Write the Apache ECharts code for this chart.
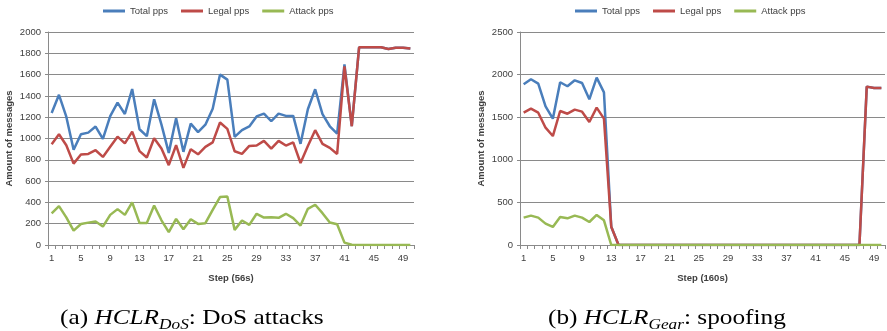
<!DOCTYPE html>
<html><head><meta charset="utf-8">
<script src="https://cdn.jsdelivr.net/npm/echarts@6/dist/echarts.min.js"></script>
<style>html,body{margin:0;padding:0;background:#fff}#c{width:887px;height:331px}</style>
</head><body><div id="c"></div>
<script>
const steps = ['1','2','3','4','5','6','7','8','9','10','11','12','13','14','15','16','17','18','19','20','21','22','23','24','25','26','27','28','29','30','31','32','33','34','35','36','37','38','39','40','41','42','43','44','45','46','47','48','49','50'];
const seriesNames = ['Total pps','Legal pps','Attack pps'];

const dosTotal = [1240,1410,1205,895,1040,1055,1112,997,1210,1337,1230,1465,1087,1022,1368,1130,865,1190,875,1140,1060,1130,1280,1600,1553,1015,1078,1113,1207,1234,1162,1234,1212,1212,950,1275,1462,1228,1115,1045,1695,1116,1856,1856,1856,1856,1840,1852,1852,1845];
const dosLegal = [947,1040,937,764,849,855,890,827,922,1017,954,1065,882,822,1002,907,750,937,724,900,852,922,963,1150,1090,880,855,930,934,978,905,978,934,963,770,930,1078,950,912,855,1678,1115,1856,1856,1856,1856,1840,1852,1852,1845];
const dosAttack = [297,365,260,135,197,210,220,173,283,337,283,400,207,207,371,232,120,245,148,242,198,205,330,450,456,142,230,189,293,258,261,255,293,252,183,340,378,299,211,195,22,3,0,0,0,0,0,0,0,0];

const gearTotal = [1886,1945,1894,1628,1483,1910,1863,1933,1902,1710,1965,1792,215,0,0,0,0,0,0,0,0,0,0,0,0,0,0,0,0,0,0,0,0,0,0,0,0,0,0,0,0,0,0,0,0,0,0,1859,1843,1843];
const gearLegal = [1553,1600,1553,1377,1279,1573,1541,1589,1565,1444,1612,1483,215,0,0,0,0,0,0,0,0,0,0,0,0,0,0,0,0,0,0,0,0,0,0,0,0,0,0,0,0,0,0,0,0,0,0,1859,1843,1843];
const gearAttack = [321,345,321,251,212,329,313,345,321,270,353,290,0,0,0,0,0,0,0,0,0,0,0,0,0,0,0,0,0,0,0,0,0,0,0,0,0,0,0,0,0,0,0,0,0,0,0,0,0,0];

const colors = ['#4A7EBB','#BE4B48','#98B954'];
const gray = '#8a8a8a';
const ff = 'Liberation Sans';
const txt = {fontFamily: ff, fontSize: 9.5, color: '#404040'};

function xAx(gi, name) {
  return {
    type: 'category', gridIndex: gi, data: steps, boundaryGap: true,
    name: name, nameLocation: 'middle', nameGap: 28,
    nameTextStyle: {fontFamily: ff, fontSize: 9.5, fontWeight: 'bold', color: '#404040'},
    axisLine: {lineStyle: {color: gray}},
    axisTick: {show: true, interval: 0, length: 4, lineStyle: {color: gray}},
    axisLabel: Object.assign({interval: 3, margin: 8}, txt),
    splitLine: {show: false}
  };
}
function yAx(gi, max, interval) {
  return {
    type: 'value', gridIndex: gi, min: 0, max: max, interval: interval,
    name: 'Amount of messages', nameLocation: 'middle', nameGap: 34,
    nameTextStyle: {fontFamily: ff, fontSize: 9.5, fontWeight: 'bold', color: '#404040'},
    axisLine: {show: true, lineStyle: {color: gray}},
    axisTick: {show: true, length: 3, lineStyle: {color: gray}},
    axisLabel: Object.assign({margin: 7, formatter: function (v) { return String(v); }}, txt),
    splitLine: {show: true, lineStyle: {color: gray, width: 1}}
  };
}
function ln(name, data, gi, ci) {
  return {
    type: 'line', name: name, data: data, xAxisIndex: gi, yAxisIndex: gi,
    symbol: 'none', color: colors[ci],
    lineStyle: {width: 2.5, color: colors[ci]}, animation: false
  };
}
function legend(left) {
  return {
    left: left, top: 6, data: seriesNames, icon: 'rect', itemWidth: 22, itemHeight: 3,
    itemGap: 13, textStyle: Object.assign({}, txt, {fontSize: 9.5}), padding: 0
  };
}
const capBase = {fontFamily: 'Liberation Serif', fontSize: 22, color: '#111', lineHeight: 30, verticalAlign: 'middle'};
const rich = {
  r: capBase,
  i: Object.assign({}, capBase, {fontStyle: 'italic'}),
  s: Object.assign({}, capBase, {fontStyle: 'italic', fontSize: 15, lineHeight: 15, verticalAlign: 'bottom'})
};
const chart = echarts.init(document.getElementById('c'), null, {renderer: 'canvas'});
chart.setOption({
  animation: false,
  backgroundColor: '#fff',
  grid: [
    {left: 48, top: 32, width: 366, height: 213},
    {left: 520, top: 32, width: 365, height: 213}
  ],
  legend: [legend(103), legend(575)],
  xAxis: [xAx(0, 'Step (56s)'), xAx(1, 'Step (160s)')],
  yAxis: [yAx(0, 2000, 200), yAx(1, 2500, 500)],
  series: [
    ln(seriesNames[0], dosTotal, 0, 0), ln(seriesNames[1], dosLegal, 0, 1), ln(seriesNames[2], dosAttack, 0, 2),
    ln(seriesNames[0], gearTotal, 1, 0), ln(seriesNames[1], gearLegal, 1, 1), ln(seriesNames[2], gearAttack, 1, 2)
  ],
  graphic: [
    {type: 'text', x: 60, y: 303, scaleX: 1.15, style: {text: '{r|(a) }{i|HCLR}{s|DoS}{r|: DoS attacks}', rich: rich}},
    {type: 'text', x: 548, y: 303, scaleX: 1.15, style: {text: '{r|(b) }{i|HCLR}{s|Gear}{r|: spoofing}', rich: rich}}
  ]
});
</script></body></html>
